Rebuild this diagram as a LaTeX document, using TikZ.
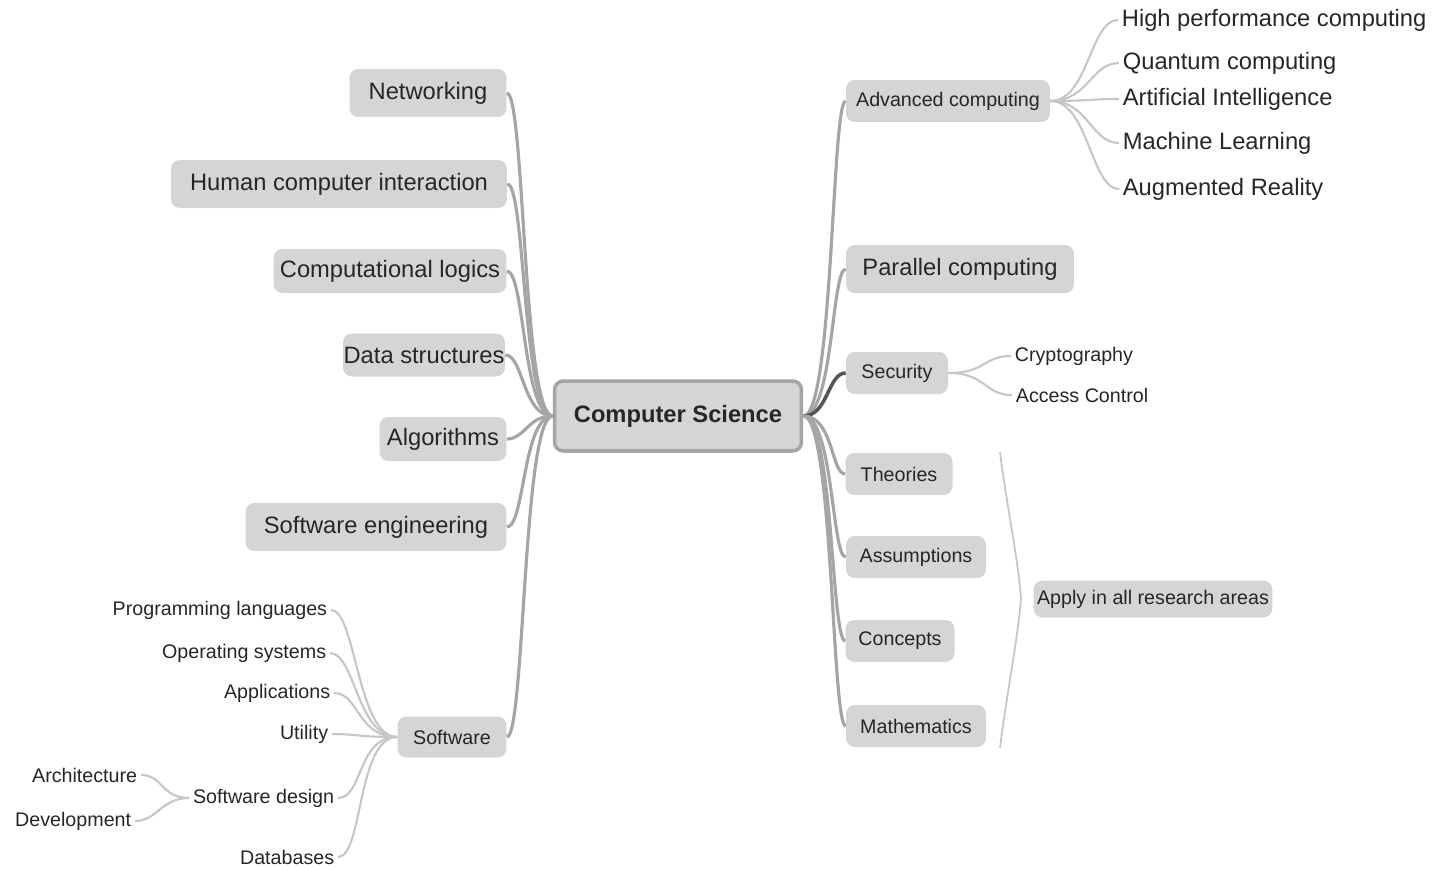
\documentclass[tikz,border=0pt]{standalone}
\usepackage{fontspec}
\setmainfont{Liberation Sans}
\usetikzlibrary{positioning, calc}
\definecolor{boxgray}{RGB}{213,213,213}
\definecolor{linegray}{RGB}{165,165,165}
\definecolor{leafgray}{RGB}{198,198,198}
\definecolor{inkgray}{RGB}{38,38,38}
\definecolor{darkline}{RGB}{85,85,85}

\begin{document}
\begin{tikzpicture}[x=0.02cm, y=-0.02cm,
  topic/.style={fill=boxgray, rounded corners=5pt, text=inkgray, inner sep=0pt, minimum height=0.84cm, font=\fontsize{11.2}{13}\selectfont},
  bigtopic/.style={topic, minimum height=0.96cm, font=\fontsize{13.5}{16}\selectfont},
  root/.style={topic, draw=linegray, line width=2pt, minimum width=4.94cm, minimum height=1.4cm, font=\fontsize{13.5}{16}\selectfont\bfseries},
  leaf/.style={text=inkgray, inner sep=2pt, font=\fontsize{11.2}{13}\selectfont},
  bigleaf/.style={leaf, font=\fontsize{13.5}{16}\selectfont},
  branch/.style={draw=linegray, line width=1.8pt},
  twig/.style={draw=leafgray, line width=1.2pt}
]
  \useasboundingbox (0,0) rectangle (1435,869);

  \node[root] (cs) at (678,416) {Computer Science};

  % left side
  \node[bigtopic, minimum width=3.14cm] (net) at (428,93) {Networking};
  \node[bigtopic, minimum width=6.72cm] (hci) at (339,184) {Human computer interaction};
  \node[bigtopic, minimum width=4.66cm, minimum height=0.88cm] (logic) at (390,271) {Computational logics};
  \node[bigtopic, minimum width=3.24cm, minimum height=0.86cm] (data) at (424,355) {Data structures};
  \node[bigtopic, minimum width=2.54cm, minimum height=0.88cm] (algo) at (443,439) {Algorithms};
  \node[bigtopic, minimum width=5.22cm] (swe) at (376,527) {Software engineering};
  \node[topic, minimum width=2.18cm, minimum height=0.82cm] (sw) at (452,737) {Software};

  \node[leaf, anchor=east] (prog) at (331,610) {Programming languages};
  \node[leaf, anchor=east] (os) at (330,653) {Operating systems};
  \node[leaf, anchor=east] (apps) at (334,693) {Applications};
  \node[leaf, anchor=east] (util) at (332,734) {Utility};
  \node[leaf, anchor=east] (swd) at (338,798) {Software design};
  \node[leaf, anchor=east] (db) at (338,857) {Databases};
  \node[leaf, anchor=east] (arch) at (141,775) {Architecture};
  \node[leaf, anchor=east] (dev) at (135,821) {Development};

  % right side
  \node[topic, minimum width=4.08cm] (adv) at (948,101) {Advanced computing};
  \node[bigtopic, minimum width=4.56cm] (par) at (960,269) {Parallel computing};
  \node[topic, minimum width=2.04cm] (sec) at (897,373) {Security};
  \node[topic, minimum width=2.14cm] (theo) at (899,474) {Theories};
  \node[topic, minimum width=2.8cm] (assu) at (916,557) {Assumptions};
  \node[topic, minimum width=2.18cm] (conc) at (900,641) {Concepts};
  \node[topic, minimum width=2.8cm] (math) at (916,726) {Mathematics};
  \node[topic, draw=black!18, minimum width=4.76cm, minimum height=0.72cm] (apply) at (1153,599) {Apply in all research areas};

  \node[bigleaf, anchor=west] (hpc) at (1118,20) {High performance computing};
  \node[bigleaf, anchor=west] (quant) at (1119,63) {Quantum computing};
  \node[bigleaf, anchor=west] (ai) at (1119,99) {Artificial Intelligence};
  \node[bigleaf, anchor=west] (ml) at (1119,143) {Machine Learning};
  \node[bigleaf, anchor=west] (ar) at (1119,189) {Augmented Reality};
  \node[leaf, anchor=west] (crypt) at (1011,356) {Cryptography};
  \node[leaf, anchor=west] (acc) at (1012,395) {Access Control};

  \coordinate (bracetop) at (1000,452);
  \coordinate (bracetip) at (1021,598);
  \coordinate (bracebot) at (1000,748);

  % main branches
  \draw[branch] (cs.west) .. controls +(-30,0) and +(18,0) .. (net.east);
  \draw[branch] (cs.west) .. controls +(-30,0) and +(18,0) .. (hci.east);
  \draw[branch] (cs.west) .. controls +(-30,0) and +(18,0) .. (logic.east);
  \draw[branch] (cs.west) .. controls +(-30,0) and +(18,0) .. (data.east);
  \draw[branch] (cs.west) .. controls +(-25,0) and +(18,0) .. (algo.east);
  \draw[branch] (cs.west) .. controls +(-30,0) and +(18,0) .. (swe.east);
  \draw[branch] (cs.west) .. controls +(-30,0) and +(18,0) .. (sw.east);
  \draw[branch] (cs.east) .. controls +(30,0) and +(-14,0) .. (adv.west);
  \draw[branch] (cs.east) .. controls +(30,0) and +(-14,0) .. (par.west);
  \draw[branch, draw=darkline, line width=2pt] (cs.east) .. controls +(25,0) and +(-18,0) .. (sec.west);
  \draw[branch] (cs.east) .. controls +(30,0) and +(-14,0) .. (theo.west);
  \draw[branch] (cs.east) .. controls +(30,0) and +(-14,0) .. (assu.west);
  \draw[branch] (cs.east) .. controls +(30,0) and +(-14,0) .. (conc.west);
  \draw[branch] (cs.east) .. controls +(30,0) and +(-14,0) .. (math.west);

  % sub branches
  \draw[twig] (adv.east) .. controls +(38,0) and +(-28,0) .. (hpc.west);
  \draw[twig] (adv.east) .. controls +(38,0) and +(-28,0) .. (quant.west);
  \draw[twig] (adv.east) .. controls +(38,0) and +(-28,0) .. (ai.west);
  \draw[twig] (adv.east) .. controls +(38,0) and +(-28,0) .. (ml.west);
  \draw[twig] (adv.east) .. controls +(38,0) and +(-28,0) .. (ar.west);
  \draw[twig] (sec.east) .. controls +(38,0) and +(-28,0) .. (crypt.west);
  \draw[twig] (sec.east) .. controls +(38,0) and +(-28,0) .. (acc.west);
  \draw[twig] (sw.west) .. controls +(-40,0) and +(25,0) .. (prog.east);
  \draw[twig] (sw.west) .. controls +(-40,0) and +(25,0) .. (os.east);
  \draw[twig] (sw.west) .. controls +(-40,0) and +(25,0) .. (apps.east);
  \draw[twig] (sw.west) .. controls +(-40,0) and +(25,0) .. (util.east);
  \draw[twig] (sw.west) .. controls +(-40,0) and +(25,0) .. (swd.east);
  \draw[twig] (sw.west) .. controls +(-40,0) and +(25,0) .. (db.east);
  \draw[twig] (swd.west) .. controls +(-28,0) and +(22,0) .. (arch.east);
  \draw[twig] (swd.west) .. controls +(-28,0) and +(22,0) .. (dev.east);

  % bracket
  \draw[twig, line width=1pt] (bracetop) .. controls +(6,50) and +(-3,-40) .. (bracetip) .. controls +(-3,40) and +(6,-50) .. (bracebot);
\end{tikzpicture}
\end{document}
